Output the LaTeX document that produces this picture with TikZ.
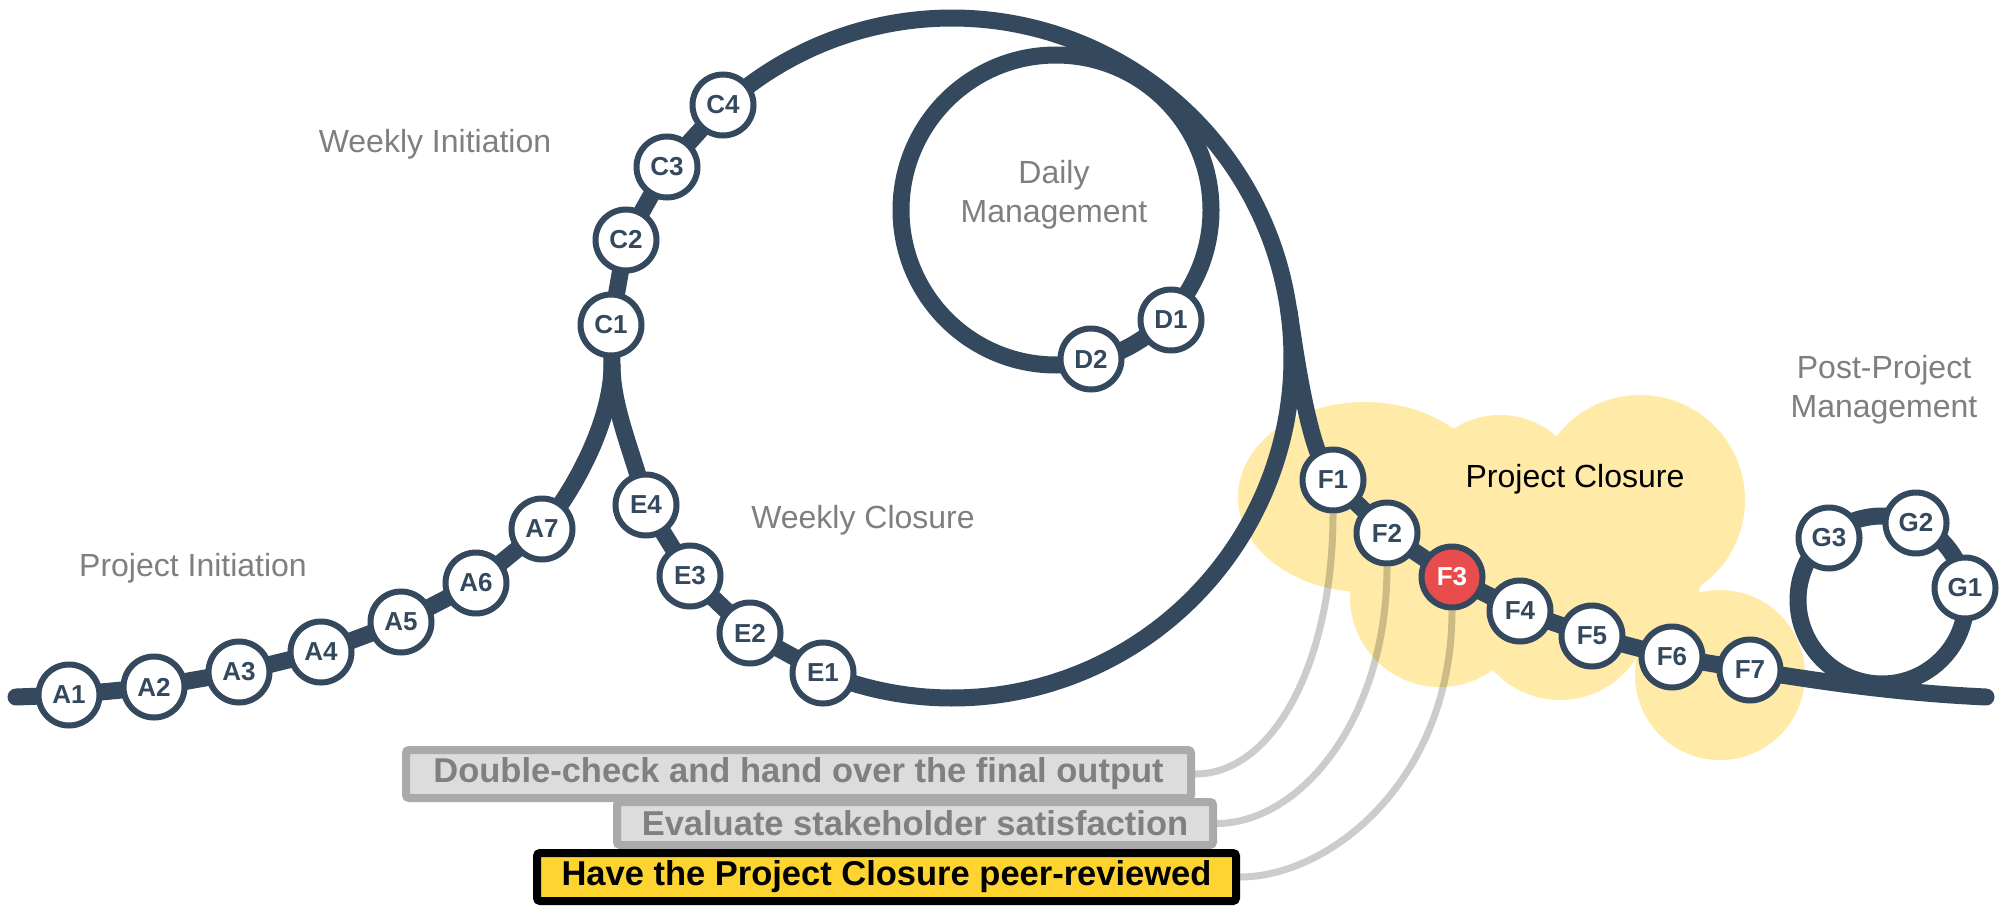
\documentclass[tikz,border=0pt]{standalone}
\usepackage{fontspec}
\setmainfont{Liberation Sans}
\usetikzlibrary{backgrounds}
\definecolor{trackc}{HTML}{34495E}
\definecolor{cloudc}{HTML}{FFEAA7}
\definecolor{redc}{HTML}{E84C4C}
\definecolor{labelc}{HTML}{7F7F7F}
\definecolor{boxfill}{HTML}{DCDCDC}
\definecolor{boxline}{HTML}{AAAAAA}
\definecolor{boxtext}{HTML}{808080}
\definecolor{yellowc}{HTML}{FDD430}
\begin{document}
\begin{tikzpicture}[x=1pt,y=-1pt,
  track/.style={draw=trackc,line width=17pt,line cap=round,line join=round},
  stn/.style={circle,draw=trackc,line width=6pt,fill=white,minimum size=61pt,inner sep=0pt,text=trackc,font=\fontsize{26}{30}\selectfont\bfseries},
  hotstn/.style={stn,fill=redc,text=white},
  phaselbl/.style={text=labelc,font=\fontsize{32}{39}\selectfont,align=center,inner sep=0pt},
  calloutline/.style={draw=black,draw opacity=0.2,line width=7pt},
  taskbox/.style={draw=boxline,fill=boxfill,line width=8pt,rounded corners=3pt,text=boxtext,font=\fontsize{34.5}{40}\selectfont\bfseries,inner sep=0pt,minimum height=48pt},
  cloudfill/.style={fill=cloudc}
]
\useasboundingbox (0,0) rectangle (2000,905);

% coordinates
\coordinate (start) at (16,697);
\coordinate (J) at (612,365);
\coordinate (Fsplit) at (1289,311);
\coordinate (finish) at (1986,697);
\coordinate (Dc) at (1056,210);
\coordinate (Gc) at (1882,600);

% stations
\node[stn] (A1) at (69,695) {A1};
\node[stn] (A2) at (154,687) {A2};
\node[stn] (A3) at (239,672) {A3};
\node[stn] (A4) at (321,652) {A4};
\node[stn] (A5) at (401,622) {A5};
\node[stn] (A6) at (476,583) {A6};
\node[stn] (A7) at (542,529) {A7};
\node[stn] (C1) at (611,325) {C1};
\node[stn] (C2) at (626,240) {C2};
\node[stn] (C3) at (667,167) {C3};
\node[stn] (C4) at (723,105) {C4};
\node[stn] (E4) at (646,505) {E4};
\node[stn] (E3) at (690,576) {E3};
\node[stn] (E2) at (750,633) {E2};
\node[stn] (E1) at (823,673) {E1};
\node[stn] (D1) at (1171,320) {D1};
\node[stn] (D2) at (1091,359) {D2};
\node[stn] (F1) at (1333,480) {F1};
\node[stn] (F2) at (1387,533) {F2};
\node[hotstn] (F3) at (1452,577) {F3};
\node[stn] (F4) at (1520,611) {F4};
\node[stn] (F5) at (1592,636) {F5};
\node[stn] (F6) at (1672,657) {F6};
\node[stn] (F7) at (1750,670) {F7};
\node[stn] (G1) at (1965,588) {G1};
\node[stn] (G2) at (1916,523) {G2};
\node[stn] (G3) at (1829,538) {G3};

% labels
\node[phaselbl,anchor=base] (wi) at (435,152) {Weekly Initiation};
\node[phaselbl,anchor=base] (pi) at (193,576) {Project Initiation};
\node[phaselbl,anchor=base] (wc) at (863,528) {Weekly Closure};
\node[phaselbl] (dm) at (1054,195) {Daily\\Management};
\node[phaselbl] (ppm) at (1884,390) {Post-Project\\Management};
\node[phaselbl,anchor=base,text=black] (pc) at (1575,487) {Project Closure};

% task boxes
\node[taskbox,minimum width=785pt] (b1) at (798.5,774) {Double-check and hand over the final output};
\node[taskbox,minimum width=596pt,minimum height=43pt] (b2) at (915,823.5) {Evaluate stakeholder satisfaction};
\node[taskbox,draw=black,fill=yellowc,text=black,minimum width=699pt] (b3) at (886.5,877) {Have the Project Closure peer-reviewed};

\begin{pgfonlayer}{background}
\fill[white] (0,0) rectangle (2000,905);
% cloud
\fill[cloudfill] (1365,497) ellipse[x radius=127, y radius=95];
\fill[cloudfill] (1500,500) circle[radius=85];
\fill[cloudfill] (1640,500) circle[radius=105];
\fill[cloudfill] (1720,675) circle[radius=85];
\fill[cloudfill] (1560,610) circle[radius=90];
\fill[cloudfill] (1440,597) circle[radius=90];
\fill[cloudfill] (1620,580) circle[radius=80];
% track
\draw[track] (start) -- (A1.center) -- (A2.center) -- (A3.center) -- (A4.center) -- (A5.center) -- (A6.center) -- (A7.center)
  .. controls (575,490) and (612,420) .. (J) -- (C1.center) -- (C2.center) -- (C3.center) -- (C4.center);
\draw[track] (C4.center) -- plot[variable=\t, domain=227.8:472.3, samples=100, smooth] ({952+340*cos(\t)},{358+340*sin(\t)})
  -- (E1.center) -- (E2.center) -- (E3.center) -- (E4.center) .. controls (636,460) and (612,410) .. (J);
\draw[track] (Dc) circle[radius=155];
\draw[track] (Fsplit) .. controls (1299,380) and (1312,459) .. (F1.center) -- (F2.center) -- (F3.center) -- (F4.center)
  -- (F5.center) -- (F6.center) -- (F7.center) .. controls (1830,683) and (1900,693) .. (finish);
\draw[track] (Gc) circle[radius=84];
% callouts
\draw[calloutline] (F1.south) .. controls (1333,660) and (1275,774) .. (b1.east);
\draw[calloutline] (F2.south) .. controls (1387,720) and (1300,823) .. (b2.east);
\draw[calloutline] (F3.south) .. controls (1452,780) and (1330,877) .. (b3.east);
\end{pgfonlayer}
\end{tikzpicture}
\end{document}
